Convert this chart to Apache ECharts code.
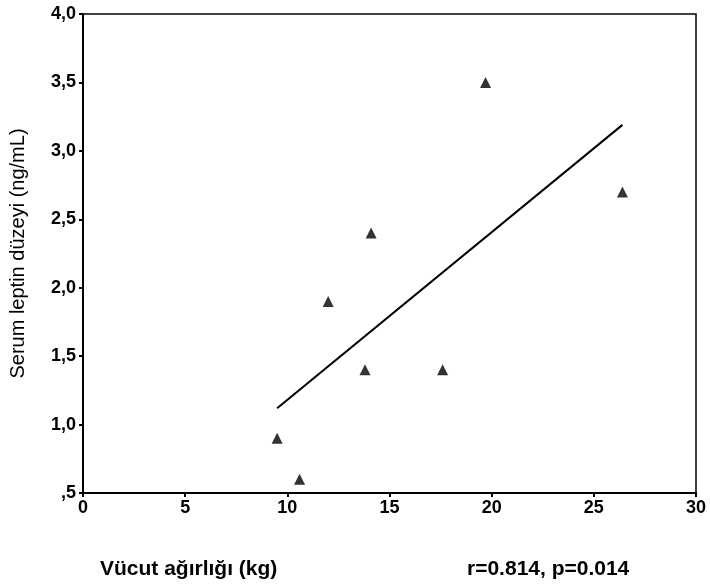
<!DOCTYPE html>
<html>
<head>
<meta charset="utf-8">
<script src="https://cdn.jsdelivr.net/npm/echarts@6/dist/echarts.min.js"></script>
<style>
  html, body { margin: 0; padding: 0; background: #fff; }
  #chart { width: 710px; height: 586px; }
</style>
</head>
<body>
<div id="chart"></div>
<script>
// body weight (kg) vs serum leptin (ng/mL)
const weight = [9.5, 10.6, 12.0, 13.8, 14.1, 17.6, 19.7, 26.4];
const leptin = [0.9, 0.6, 1.9, 1.4, 2.4, 1.4, 3.5, 2.7];
// fitted line ends
const fitX = [9.5, 26.4];
const fitY = [1.12, 3.19];

const xTitle = 'Vücut ağırlığı (kg)';
const yTitle = 'Serum leptin düzeyi (ng/mL)';
const statText = 'r=0.814, p=0.014';

const font = 'Liberation Sans, Arial, sans-serif';

const chart = echarts.init(document.getElementById('chart'));

const option = {
  backgroundColor: '#fff',
  animation: false,
  grid: {
    left: 83, right: 14, top: 14, bottom: 93,
    show: true, borderColor: '#000', borderWidth: 1.5
  },
  xAxis: {
    type: 'value',
    min: 0, max: 30, interval: 5,
    axisLine: { show: true, lineStyle: { color: '#000', width: 2 } },
    axisTick: { show: true, length: 4, lineStyle: { color: '#000', width: 2 } },
    axisLabel: { color: '#000', fontFamily: font, fontWeight: 'bold', fontSize: 18, margin: 6 },
    splitLine: { show: false }
  },
  yAxis: {
    type: 'value',
    min: 0.5, max: 4, interval: 0.5,
    axisLine: { show: true, lineStyle: { color: '#000', width: 2 } },
    axisTick: { show: true, length: 4, lineStyle: { color: '#000', width: 2 } },
    axisLabel: {
      color: '#000', fontFamily: font, fontWeight: 'bold', fontSize: 18, margin: 7,
      formatter: v => v === 0.5 ? ',5' : v.toFixed(1).replace('.', ',')
    },
    splitLine: { show: false },
    name: yTitle,
    nameLocation: 'middle',
    nameGap: 55,
    nameTextStyle: { color: '#000', fontFamily: font, fontSize: 20 }
  },
  graphic: [
    {
      type: 'text', left: 100, top: 559,
      style: { text: xTitle, fill: '#000', font: 'bold 21px ' + font }
    },
    {
      type: 'text', left: 467, top: 559,
      style: { text: statText, fill: '#000', font: 'bold 21px ' + font }
    }
  ],
  series: [
    {
      type: 'line',
      data: fitX.map((x, i) => [x, fitY[i]]),
      symbol: 'none',
      lineStyle: { color: '#000', width: 2 },
      z: 2
    },
    {
      type: 'scatter',
      data: weight.map((x, i) => [x, leptin[i]]),
      symbol: 'triangle',
      symbolSize: 11,
      itemStyle: { color: '#000' },
      z: 3
    }
  ]
};

chart.setOption(option);
</script>
</body>
</html>
